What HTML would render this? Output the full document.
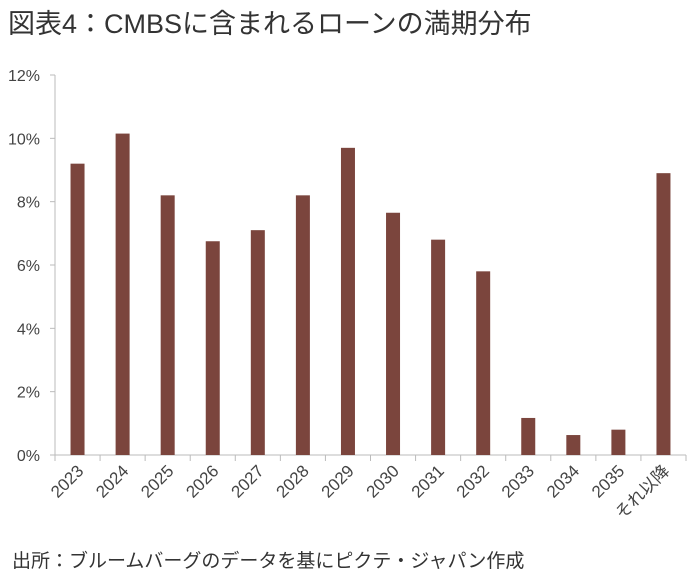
<!DOCTYPE html>
<html><head><meta charset="utf-8"><style>
body{margin:0;background:#fff;width:692px;height:576px;overflow:hidden;font-family:"Liberation Sans","Noto Sans CJK JP",sans-serif;}
#title{position:absolute;left:8px;top:2px;font-size:27px;color:#333;white-space:nowrap}
#foot{position:absolute;left:12px;top:546px;font-size:19px;color:#333;white-space:nowrap}
svg{position:absolute;left:0;top:0}
</style></head><body>
<div id="title">図表4：CMBSに含まれるローンの満期分布</div>
<svg id="c" width="692" height="576"></svg>
<div id="foot">出所：ブルームバーグのデータを基にピクテ・ジャパン作成</div>
<script>
const categories=["2023","2024","2025","2026","2027","2028","2029","2030","2031","2032","2033","2034","2035","それ以降"];
const values=[9.2,10.15,8.2,6.75,7.1,8.2,9.7,7.65,6.8,5.8,1.17,0.63,0.8,8.9];
const yTicks=[0,2,4,6,8,10,12];
const svg=document.getElementById('c');
const NS='http://www.w3.org/2000/svg';
const x0=55,x1=686,y0=455,y12=75;
const band=(x1-x0)/categories.length;
const y=v=>y0-(v/12)*(y0-y12);
const xc=i=>x0+band*(i+0.5);
function mk(t,a){const e=document.createElementNS(NS,t);for(const k in a)e.setAttribute(k,a[k]);svg.appendChild(e);return e;}
const ya=mk('line',{x1:x0,y1:y12,x2:x0,y2:y0,stroke:'#bbb','stroke-width':1});


yTicks.forEach(v=>{
 const tk=mk('line',{x1:x0-5,y1:y(v),x2:x0,y2:y(v),stroke:'#bbb'});
 
 
 const t=mk('text',{x:40,y:y(v)+6,'text-anchor':'end','font-size':16,fill:'#444'});
 t.textContent=v+'%';
 
 
});
const xa=mk('line',{x1:x0,y1:y0,x2:x1,y2:y0,stroke:'#bbb','stroke-width':1});


for(let i=0;i<=categories.length;i++){
 const tk=mk('line',{x1:x0+band*i,y1:y0,x2:x0+band*i,y2:y0+6,stroke:'#bbb'});
 
 
}
categories.forEach((c,i)=>{
 const r=mk('rect',{x:xc(i)-7,y:y(values[i]),width:14,height:y0-y(values[i]),fill:'#7b453d'});
 
 
 const cx=xc(i)+7,cy=y0+17;
 const t=mk('text',{x:cx,y:cy,'text-anchor':'end','font-size':17,fill:'#444',transform:`rotate(-45 ${cx} ${cy})`});
 t.textContent=c;
 
 
});
</script>
</body></html>
